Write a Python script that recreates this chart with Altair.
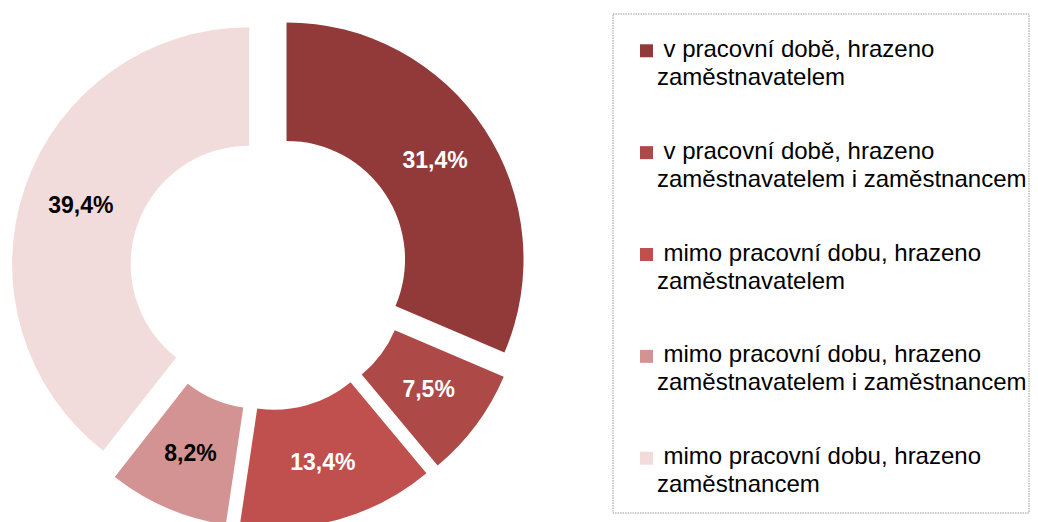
import altair as alt
import pandas as pd

# ---- data ----
categories = [
    "v pracovní době, hrazeno zaměstnavatelem",
    "v pracovní době, hrazeno zaměstnavatelem i zaměstnancem",
    "mimo pracovní dobu, hrazeno zaměstnavatelem",
    "mimo pracovní dobu, hrazeno zaměstnavatelem i zaměstnancem",
    "mimo pracovní dobu, hrazeno zaměstnancem",
]
legend_line1 = [
    "v pracovní době, hrazeno",
    "v pracovní době, hrazeno",
    "mimo pracovní dobu, hrazeno",
    "mimo pracovní dobu, hrazeno",
    "mimo pracovní dobu, hrazeno",
]
legend_line2 = [
    "zaměstnavatelem",
    "zaměstnavatelem i zaměstnancem",
    "zaměstnavatelem",
    "zaměstnavatelem i zaměstnancem",
    "zaměstnancem",
]
values = [31.4, 7.5, 13.4, 8.2, 39.4]
colors = ["#923A3A", "#AD4947", "#C0504D", "#D39392", "#F2DCDB"]
label_colors = ["white", "white", "white", "black", "black"]

# ---- layout constants ----
CX, CY = 261, 263          # donut centre inside its panel (px)
EXPLODE = 21               # radial explosion of each slice (px)
R_OUT, R_IN = 237, 118.5
LABEL_R = 178
FONT = "Liberation Sans"
LEG_FS = 24

df = pd.DataFrame({
    "idx": list(range(len(categories))),
    "category": categories,
    "value": values,
    "lc": label_colors,
    "l1": legend_line1,
    "l2": legend_line2,
})

color_scale = alt.Scale(domain=categories, range=colors)

base = (
    alt.Chart(df)
    .transform_joinaggregate(total="sum(value)")
    .transform_window(cum="sum(value)", sort=[alt.SortField("idx")], frame=[None, 0])
    .transform_calculate(mid="(datum.cum - datum.value / 2) / datum.total * 2 * PI")
    .transform_calculate(
        ox=f"{CX} + {EXPLODE} * sin(datum.mid)",
        oy=f"{CY} - {EXPLODE} * cos(datum.mid)",
        lbl="replace(format(datum.value, '.1f'), '.', ',') + '%'",
    )
)

arcs = base.mark_arc(outerRadius=R_OUT, innerRadius=R_IN).encode(
    theta=alt.Theta("value:Q", stack=True),
    order=alt.Order("idx:Q"),
    color=alt.Color("category:N", scale=color_scale, legend=None),
    x=alt.X("ox:Q", scale=None, axis=None),
    y=alt.Y("oy:Q", scale=None, axis=None),
)

labels = base.mark_text(
    radius=LABEL_R, font=FONT, fontSize=23, fontWeight="bold"
).encode(
    theta=alt.Theta("value:Q", stack=True),
    order=alt.Order("idx:Q"),
    text="lbl:N",
    color=alt.Color("lc:N", scale=None, legend=None),
    x=alt.X("ox:Q", scale=None, axis=None),
    y=alt.Y("oy:Q", scale=None, axis=None),
)

donut = alt.layer(arcs, labels).resolve_scale(color="independent").properties(
    width=597, height=506
)

# ---- legend panel ----
ypos = alt.Y(
    "category:N", sort=categories, axis=None,
    scale=alt.Scale(type="point", padding=0.42),
)

squares = alt.Chart(df).mark_square(size=169, opacity=1).encode(
    x=alt.value(41.5),
    y=ypos,
    color=alt.Color("category:N", scale=color_scale, legend=None),
)

leg_text1 = alt.Chart(df).mark_text(
    align="left", baseline="middle", dy=-1, dx=6.5,
    font=FONT, fontSize=LEG_FS, color="black",
).encode(x=alt.value(52), y=ypos, text="l1:N")

leg_text2 = alt.Chart(df).mark_text(
    align="left", baseline="middle", dy=27,
    font=FONT, fontSize=LEG_FS, color="black",
).encode(x=alt.value(52), y=ypos, text="l2:N")

box = alt.Chart(pd.DataFrame({"b": [0]})).mark_rect(
    fillOpacity=0, stroke="#9a9a9a", strokeWidth=1, strokeDash=[1.5, 1]
).encode(
    x=alt.value(8), x2=alt.value(424), y=alt.value(6), y2=alt.value(505),
)

legend = alt.layer(box, squares, leg_text1, leg_text2).properties(width=425, height=493)

chart = (
    alt.hconcat(donut, legend, spacing=0)
    .properties(padding=0)
    .configure_view(stroke=None)
)

chart.save("out.html", embed_options={"renderer": "svg", "actions": False})
